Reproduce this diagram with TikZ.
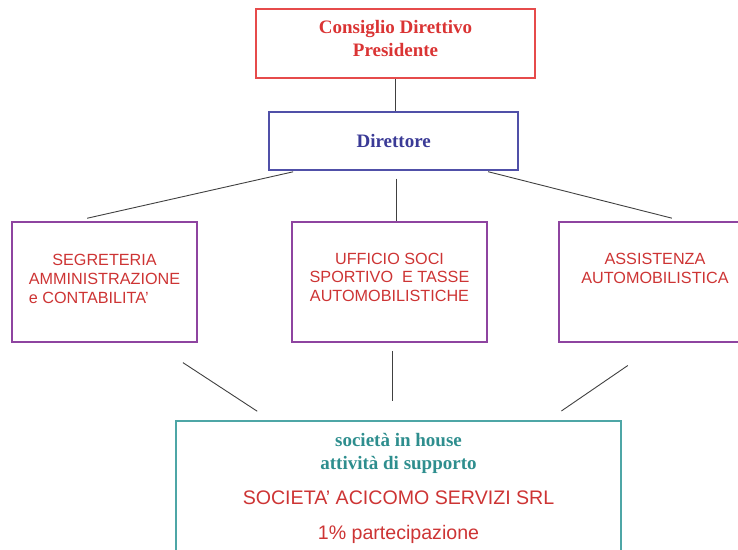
\documentclass[tikz,border=0pt]{standalone}
\usepackage{fontspec}
\setmainfont{Liberation Sans}
\newfontfamily\headfont{Liberation Serif}
\usetikzlibrary{positioning}

\definecolor{boardred}{RGB}{230,75,75}
\definecolor{boardtext}{RGB}{218,52,52}
\definecolor{dirblue}{RGB}{80,80,168}
\definecolor{dirtext}{RGB}{58,58,150}
\definecolor{unitpurple}{RGB}{142,68,160}
\definecolor{unittext}{RGB}{205,52,52}
\definecolor{houseteal}{RGB}{77,166,166}
\definecolor{housetext}{RGB}{46,142,142}
\definecolor{linkgray}{RGB}{64,64,64}

\tikzset{%
  every box/.style={
    rectangle,
    draw,
    line width=1.8pt,
    inner sep=0pt
  },
  head text/.style={
    font=\headfont\bfseries\fontsize{19}{23}\selectfont,
    align=center,
    inner sep=0pt
  },
  unit text/.style={
    font=\fontsize{16.2}{18.8}\selectfont,
    text=unittext,
    align=center,
    inner sep=0pt
  },
  link/.style={
    draw=linkgray,
    line width=0.9pt
  },
}

\begin{document}
\begin{tikzpicture}[x=1pt, y=-1pt]

\useasboundingbox (0,0) rectangle (738,549);

\node [every box, draw=boardred, minimum width=279pt, minimum height=69pt] (cons) at (395.5,43.5) {};
\node [head text, text=boardtext, below=12pt of cons.north] (cons-text) {Consiglio Direttivo\\Presidente};

\node [every box, head text, draw=dirblue, text=dirtext, minimum width=249pt, minimum height=58pt] (dir) at (393.7,140.8) {Direttore};

\foreach \n/\x/\w in {segr/104.5/185, soci/389.5/195, assist/655/192}
  \node [every box, draw=unitpurple, minimum width=\w pt, minimum height=120pt] (\n) at (\x,282) {};

\node [unit text, below=33pt of segr.north] (segr-text)
  {SEGRETERIA\\AMMINISTRAZIONE\\\rlap{e CONTABILITA’}\hphantom{AMMINISTRAZIONE}};
\node [unit text, below=31.5pt of soci.north] (soci-text)
  {UFFICIO SOCI\\SPORTIVO~ E TASSE\\AUTOMOBILISTICHE};
\node [unit text, below=32pt of assist.north] (assist-text)
  {ASSISTENZA\\AUTOMOBILISTICA};

\node [every box, draw=houseteal, line width=2pt, minimum width=445pt, minimum height=150pt] (house) at (398.5,496) {};
\node [head text, text=housetext, below=13.5pt of house.north] (house-text) {società in house\\attività di supporto};
\node [unit text, font=\fontsize{19.6}{35}\selectfont, below=71pt of house.north] (house-name)
  {SOCIETA’ ACICOMO SERVIZI SRL\\1\% partecipazione};

% links
\draw [link] (cons.south) -- (cons.south |- dir.north);
\draw [link, shorten <=5pt, shorten >=13pt] ([xshift=-95.7pt]dir.south) -- ([xshift=-30pt]segr.north);
\draw [link, shorten <=8pt] ([xshift=2.3pt]dir.south) -- ([xshift=2.3pt]dir.south |- soci.north);
\draw [link, shorten <=4pt, shorten >=12pt] ([xshift=90.5pt]dir.south) -- ([xshift=28.5pt]assist.north);

\draw [link, shorten <=36pt, shorten >=16pt] ([xshift=48.3pt]segr.south) -- ([xshift=-127.9pt]house.north);
\draw [link, shorten <=8pt, shorten >=19pt] ([xshift=2.5pt]soci.south) -- ([xshift=2.5pt]soci.south |- house.north);
\draw [link, shorten <=40pt, shorten >=16pt] ([xshift=5.8pt]assist.south) -- ([xshift=149.7pt]house.north);

\end{tikzpicture}
\end{document}
